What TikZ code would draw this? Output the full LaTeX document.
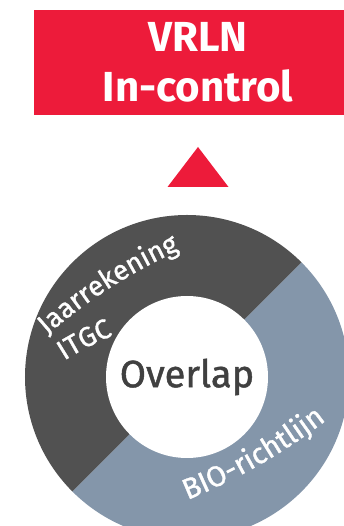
\documentclass[tikz,border=0pt]{standalone}
\usepackage{fontspec}
\setmainfont{Fira Sans}
\newfontfamily\ringfont[FakeBold=1.2]{Fira Sans}
\usepackage{xcolor}
\usepackage{tikz}
\definecolor{vrlnred}{RGB}{237, 27, 58}
\definecolor{ringdark}{RGB}{81, 81, 81}
\definecolor{ringblue}{RGB}{132, 150, 170}
\definecolor{textgray}{RGB}{64, 64, 64}
\usetikzlibrary{shapes,positioning,calc,decorations.text}

\begin{document}
\begin{tikzpicture}[x=1pt, y=1pt,
    titlebox/.style={rectangle, fill=vrlnred, text=white, minimum width=328pt, minimum height=105pt, align=center, inner sep=0pt, font=\fontsize{42}{50}\selectfont\bfseries},
    overlap/.style={circle, fill=white, minimum size=162pt, inner sep=0pt, text=textgray, font=\fontsize{38}{44}\selectfont\ringfont},
    ringtext/.style={decorate, decoration={text along path, text color=white, text align=left}}
]
    \clip (0,0) rectangle (344,526);
    \node[titlebox] (title) at (198,463.5) {VRLN\\In-control};

    % Triangle pointing up
    \fill[vrlnred] (167.5,339) -- (198,379) -- (228.5,339) -- cycle;

    % Ring halves
    \coordinate (c) at (187,149);
    \fill[ringdark] (c) -- ++(45:162) arc[start angle=45, end angle=225, radius=162pt] -- cycle;
    \fill[ringblue] (c) -- ++(225:162) arc[start angle=225, end angle=405, radius=162pt] -- cycle;
    \node[overlap] (overlap) at (c) {Overlap};

    % Labels along the ring
    \path[ringtext, decoration={text={|\fontsize{27.5}{32}\ringfont|Jaarrekening}}]
        (396.3,-207.9) ++(131.2:530) arc[start angle=131.2, end angle=108, radius=530pt];
    \path[ringtext, decoration={text={|\fontsize{27.5}{32}\ringfont|ITGC}}]
        (225.5,-87.7) ++(122.5:300) arc[start angle=122.5, end angle=104, radius=300pt];
    \path[ringtext, decoration={text={|\fontsize{29}{34}\ringfont|BIO-richtlijn}}]
        (-39.2,581.5) ++(-67.8:600) arc[start angle=-67.8, end angle=-48, radius=600pt];
\end{tikzpicture}
\end{document}
